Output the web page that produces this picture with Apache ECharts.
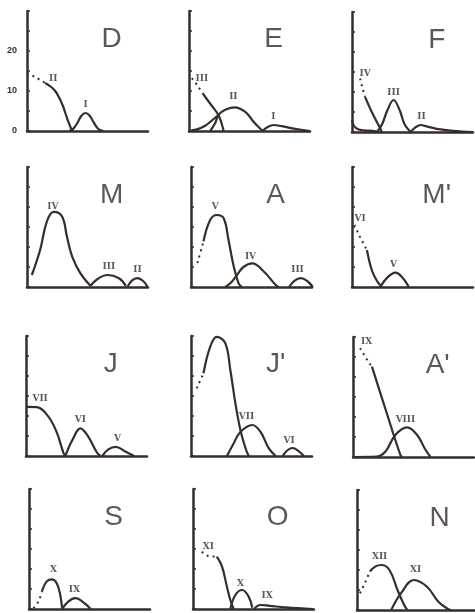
<!DOCTYPE html>
<html lang="en">
<head>
    <meta charset="UTF-8">
    <title>Cohortes</title>
    <script src="https://cdn.jsdelivr.net/npm/echarts@6/dist/echarts.min.js"></script>
    <style>
        body{ margin: 0; background: #fff }
        #chart{ width: 475px; height: 613px }
    </style>
</head>
<body>
    <div id="chart"></div>
    <script>
        // panel names, in reading order
        var panelNames = ['D', 'E', 'F', 'M', 'A', "M'", 'J', "J'", "A'", 'S', 'O', 'N'];
        var yLabelValues = [0, 10, 20];

        // D
        var dII_dot = [[0,14.5],[2,13.5],[4.5,12]];
        var dII = [[4.5,12],[6,11],[7,10],[8,8.3],[9,6],[10,3],[11,0.5],[11.5,0]];
        var dI = [[10.5,0],[11.5,0.6],[12.5,2],[13.5,3.8],[14.5,4.5],[15.5,3.9],[16.5,2.2],[17.5,0.7],[18.5,0.1],[19,0]];
        // E
        var eIII_dot = [[0.7,13.2],[2,11.5],[3.4,9.4]];
        var eIII = [[3.4,9.4],[5.5,6.5],[7.3,4],[8.2,1.5],[8.6,0]];
        var eIV = [[0,0],[2,0.4],[4,1.3],[5.5,2.5],[7.3,4]];
        var eII = [[5.25,0],[6.5,2],[7.3,4],[9,5.3],[11.5,5.9],[13,5.4],[14.4,4.4],[16,2.3],[17.75,0.5],[18.5,0]];
        var eI = [[18.2,0],[19.5,1],[21,1.5],[23,1.2],[26,0.6],[30,0]];
        // F
        var fV = [[0,3],[0.5,1.5],[1.5,0.7],[3,0.4],[5,0.3],[7,0]];
        var fIV_dot = [[2,13.4],[2.6,11],[3.25,8.8]];
        var fIV = [[3.25,8.8],[5,4.8],[7,0.9],[7.4,0]];
        var fIII = [[6.2,0],[7.5,2],[8.8,5.5],[10.3,8],[11.8,5.5],[13,2],[14.5,0]];
        var fII = [[14.5,0],[15.8,1.2],[17,1.75],[18.5,1.4],[21,0.8],[25,0.3],[30,0]];
        // M
        var mIV = [[1.2,3],[3.25,9.25],[4.9,16.3],[6.6,18.8],[8.7,17.6],[9.9,12.6],[11.2,7.6],[13.25,3.4],[15.75,0.3]];
        var mIII = [[15.75,0.3],[17.5,2],[19.9,3],[22.8,2.2],[24.5,0.3]];
        var mII = [[24.9,0],[26,1.6],[27.4,2.2],[28.8,1.5],[29.9,0]];
        // A
        var aV_dot = [[1.6,6],[3.1,11.4]];
        var aV = [[3.1,11.4],[4.75,16.75],[6.4,18],[8.1,17.2],[9.3,11.75],[10.6,5.1],[11.8,0.9],[12.6,0]];
        var aIV = [[8.5,0],[10,1.2],[11.4,3],[13,5],[15.2,5.9],[18.1,3.8],[21,0.5],[21.8,0]];
        var aIII = [[24.3,0],[25.7,1.6],[27.25,2.2],[28.8,1.5],[30.2,0]];
        // M'
        var mpVI_dot = [[0.6,15.5],[2,12.5],[3.7,9.25]];
        var mpVI = [[3.7,9.25],[4.9,4.25],[6.2,1.5],[7.4,0]];
        var mpV = [[7,0],[8.8,2.4],[10.75,3.6],[12.5,2.4],[14.1,0]];
        // J
        var jVII = [[0.2,12.3],[2.7,12.2],[5.6,9.8],[7.7,5.7],[9.3,0.7],[9.75,0]];
        var jVI = [[9.75,0],[11.5,4],[13.5,6.9],[15.2,5.2],[17.7,0.7],[18.5,0]];
        var jV = [[18.9,0],[20.5,1.7],[22.25,2.3],[24.5,1.2],[26.8,0]];
        // J'
        var jpVIII_dot = [[1.4,16.9],[3.1,20.7]];
        var jpVIII = [[3.1,20.7],[4.75,27.3],[6.4,29.8],[8.5,28.2],[9.75,21.5],[11,13.2],[12.25,6.5],[13.5,2],[14.3,0]];
        var jpVII = [[8.9,0],[10.5,3],[12.25,6],[15.2,7.75],[17.25,6],[19.3,1.9],[21,0]];
        var jpVI = [[22.7,0],[24,1.5],[25.2,2],[26.6,1.3],[28,0]];
        // A'
        var apIX_dot = [[1.75,27.2],[3.8,23.8],[4.7,22.6]];
        var apIX = [[4.7,22.6],[8.2,11.5],[11.75,0.5],[12.2,0]];
        var apVIII = [[0,0],[5.9,0.1],[8,1.3],[10.5,5.5],[13.4,7.4],[15.9,5.5],[18,1.75],[19.25,0]];
        // S
        var sX_dot = [[1.1,0.2],[2.3,1.8],[3.2,4.35]];
        var sX = [[3.2,4.35],[4.4,6.9],[5.7,7.4],[6.9,6.4],[7.75,3.5],[8.2,0.2]];
        var sIX = [[8.2,0],[9.8,1.9],[11.5,2.7],[14,1.25],[15.25,0]];
        // O
        var oXI_dot = [[2.2,14.3],[3.8,13.25],[5.9,13.1]];
        var oXI = [[5.9,13.1],[7.2,10.6],[8.4,5.6],[9.25,2.25],[10.1,0]];
        var oX = [[9.25,0],[10.5,3.5],[12.2,4.75],[13.8,3.1],[14.7,0.3]];
        var oIX = [[15.1,0],[16.75,1],[19,0.8],[23,0.4],[29.7,0]];
        // N
        var nXII_dot = [[0.75,4.2],[2,6.7],[3.25,9.6]];
        var nXII = [[3.25,9.6],[4.7,10.9],[6.2,11.25],[8.25,10],[10.3,5],[12,1.25],[12.8,0]];
        var nXI = [[8.7,0],[11.2,4.2],[14.5,7.5],[17.8,5.8],[20.75,2],[23.25,0.2],[24,0]];

        var solidCurves = [
            [dII, dI],
            [eIII, eIV, eII, eI],
            [fV, fIV, fIII, fII],
            [mIV, mIII, mII],
            [aV, aIV, aIII],
            [mpVI, mpV],
            [jVII, jVI, jV],
            [jpVIII, jpVII, jpVI],
            [apIX, apVIII],
            [sX, sIX],
            [oXI, oX, oIX],
            [nXII, nXI]
        ];
        var dottedCurves = [
            [dII_dot], [eIII_dot], [fIV_dot], [], [aV_dot], [mpVI_dot],
            [], [jpVIII_dot], [apIX_dot], [sX_dot], [oXI_dot], [nXII_dot]
        ];
        // cohort labels: text, x, y
        var cohortLabels = [
            [['II',6.5,13],['I',14.5,6.5]],
            [['III',3.2,13],['II',11,8.6],['I',20.9,3.6]],
            [['IV',3.25,14.7],['III',10.3,9.8],['II',17.25,3.8]],
            [['IV',6.4,20],['III',20.3,5],['II',27.4,4.25]],
            [['V',6,20],['IV',14.75,7.6],['III',26.4,4.4]],
            [['VI',2,17.2],['V',10.3,5.6]],
            [['VII',3.5,14.4],['VI',13.5,9],['V',22.7,4.4]],
            [['VIII',6,32],['VII',13.75,9.8],['VI',24.3,3.8]],
            [['IX',3.4,28.8],['VIII',13,9.25]],
            [['X',6.1,9.9],['IX',11.25,4.75]],
            [['XI',3.8,15.6],['X',11.75,6.4],['IX',18.4,3.3]],
            [['XII',5.75,13.3],['XI',14.9,10]]
        ];

        // layout of the 12 small plots (axis origin)
        var gridLeft = [27, 189, 352, 27, 191, 352, 26, 191, 353, 29, 193, 357];
        var gridTop = [11, 11, 12, 167, 167, 167, 336, 336, 337, 489, 489, 490];

        var ink = '#352e2a';
        var grids = [], xAxes = [], yAxes = [], series = [];

        for (let i = 0; i < panelNames.length; i++) {
            grids.push({ left: gridLeft[i], top: gridTop[i], width: 121, height: 120 });
            xAxes.push({
                gridIndex: i, type: 'value', min: 0, max: 30,
                axisLine: { lineStyle: { color: ink, width: 2.5 } },
                axisTick: { show: false }, axisLabel: { show: false }, splitLine: { show: false }
            });
            yAxes.push({
                gridIndex: i, type: 'value', min: 0, max: 30, interval: 5,
                axisLine: { show: true, lineStyle: { color: ink, width: 2.5 } },
                axisTick: { show: true, inside: true, length: 3, lineStyle: { color: ink, width: 1.5 } },
                axisLabel: {
                    show: i === 0, color: ink, fontSize: 9, fontWeight: 'bold', margin: 10,
                    formatter: v => yLabelValues.indexOf(v) >= 0 ? v : ''
                },
                splitLine: { show: false }
            });
            solidCurves[i].forEach(c => series.push({
                type: 'line', xAxisIndex: i, yAxisIndex: i, data: c, smooth: 0.4,
                showSymbol: false, silent: true,
                lineStyle: { color: ink, width: 2.2 }
            }));
            dottedCurves[i].forEach(c => series.push({
                type: 'line', xAxisIndex: i, yAxisIndex: i, data: c, smooth: 0.4,
                showSymbol: false, silent: true,
                lineStyle: { color: ink, width: 2, type: [2, 4] }
            }));
            series.push({
                type: 'scatter', xAxisIndex: i, yAxisIndex: i, symbolSize: 0, silent: true,
                data: cohortLabels[i].map(l => ({ value: [l[1], l[2]], name: l[0] })),
                label: {
                    show: true, position: 'inside', formatter: '{b}', color: ink,
                    fontSize: 9, fontWeight: 'bold', fontFamily: 'DejaVu Serif'
                }
            });
            series.push({
                type: 'scatter', xAxisIndex: i, yAxisIndex: i, symbolSize: 0, silent: true,
                data: [{ value: [21, 23], name: panelNames[i] }],
                label: {
                    show: true, position: 'inside', formatter: '{b}', color: ink,
                    fontSize: 28, fontFamily: 'Liberation Sans'
                }
            });
        }

        var myChart = echarts.init(document.getElementById('chart'));
        myChart.setOption({
            animation: false,
            grid: grids,
            xAxis: xAxes,
            yAxis: yAxes,
            series: series
        });
    </script>
</body>
</html>
